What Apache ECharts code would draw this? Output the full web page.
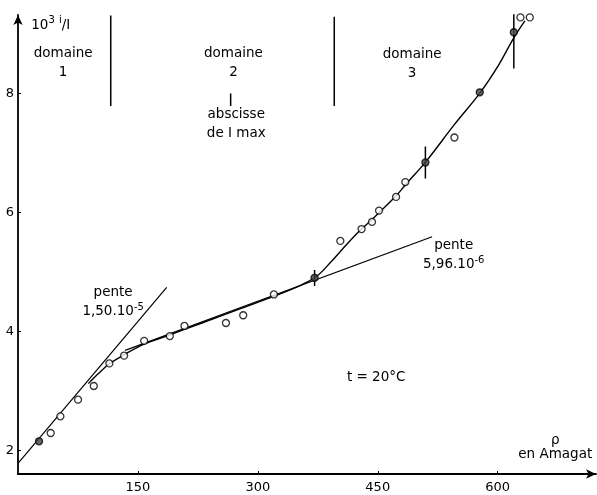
<!DOCTYPE html>
<html>
<head>
<meta charset="utf-8">
<script src="https://cdn.jsdelivr.net/npm/echarts@6/dist/echarts.min.js"></script>
<style>
html,body{margin:0;padding:0;background:#fff;}
#c{width:597px;height:495px;}
</style>
</head>
<body>
<div id="c"></div>
<script>
// ---- data ----
const xTicks = [150, 300, 450, 600];
const yTicks = [2, 4, 6, 8];

// measured points (density in Amagat, 10^3 i/I)
const openPoints = [
  [40.9, 2.29], [53, 2.57], [75.1, 2.85], [94.8, 3.08], [114.3, 3.46],
  [132.7, 3.59], [157.8, 3.84], [189.9, 3.92], [208.2, 4.09], [260.1, 4.14],
  [281.7, 4.27], [320.1, 4.62], [403.2, 5.52], [429.8, 5.72], [442.8, 5.84],
  [451.6, 6.03], [472.9, 6.26], [484.5, 6.51], [545.9, 7.26], [628.5, 9.28],
  [640.2, 9.28]
];
const solidPoints = [[26.3, 2.15], [371, 4.90], [509.6, 6.84], [577.6, 8.02], [620.2, 9.03]];

// tangent lines
const slopeLine1 = [[0, 1.78], [186, 4.74]];
const slopeLine2 = [[134, 3.68], [518, 5.59]];

// fitted curve
const fitCurve = [
  [88, 3.12], [100, 3.28], [114, 3.45], [132, 3.60], [157, 3.78], [190, 3.94],
  [230, 4.14], [280, 4.39], [328, 4.63], [356, 4.79], [374, 4.93], [391, 5.16],
  [411, 5.46], [428, 5.70], [443, 5.88], [452, 6.00], [473, 6.28], [485, 6.47],
  [510, 6.85], [546, 7.48], [578, 8.01], [600, 8.45], [620, 8.93], [634, 9.22]
];

// error bars: [x, low, high]
const errorBars = [[371, 4.76, 5.03], [509.6, 6.57, 7.11], [620.2, 8.42, 9.47]];

// vertical separators: [x, low, high]
const separators = [[116, 7.79, 9.31], [395.6, 7.79, 9.29], [266, 7.79, 8.0]];

// annotations (centre in data coords)
const annotations = [
  { t: '10{sup|3} {sup|i}/{n|I}', x: 41, y: 9.15 },
  { t: 'domaine\n1', x: 56.5, y: 8.52 },
  { t: 'domaine\n2', x: 269.5, y: 8.52 },
  { t: 'domaine\n3', x: 493, y: 8.50 },
  { t: 'abscisse\nde I max', x: 273, y: 7.49 },
  { t: 'pente\n1,50.10{sup|-5}', x: 119, y: 4.49 },
  { t: 'pente\n5,96.10{sup|-6}', x: 545, y: 5.28 },
  { t: 't = 20°C', x: 448, y: 3.23 },
  { t: 'ρ', x: 672, y: 2.17 },
  { t: 'en Amagat', x: 672, y: 1.92 }
];

const FONT = 'DejaVu Sans';
const INK = '#000';

const segSeries = [];
errorBars.concat(separators).forEach(function (s) {
  segSeries.push({
    type: 'line', silent: true, symbol: 'none',
    lineStyle: { color: INK, width: 1.5 },
    data: [[s[0], s[1]], [s[0], s[2]]], z: 3
  });
});

const chart = echarts.init(document.getElementById('c'), null, { renderer: 'canvas' });
chart.setOption({
  animation: false,
  backgroundColor: '#fff',
  grid: { left: 18, right: 1, top: 15, bottom: 21, containLabel: false },
  xAxis: {
    type: 'value', min: 0, max: 723,
    splitLine: { show: false },
    axisLine: { lineStyle: { color: INK, width: 1.8 }, symbol: ['none', 'arrow'], symbolSize: [7, 10] },
    axisTick: { inside: true, length: 3, lineStyle: { color: INK }, customValues: xTicks },
    axisLabel: { customValues: xTicks, color: INK, fontFamily: FONT, fontSize: 13, margin: 7 }
  },
  yAxis: {
    type: 'value', min: 1.6, max: 9.32,
    splitLine: { show: false },
    axisLine: { lineStyle: { color: INK, width: 1.8 }, symbol: ['none', 'arrow'], symbolSize: [7, 10] },
    axisTick: { inside: true, length: 3, lineStyle: { color: INK }, customValues: yTicks },
    axisLabel: { customValues: yTicks, color: INK, fontFamily: FONT, fontSize: 13, margin: 4 }
  },
  series: [
    { type: 'line', silent: true, symbol: 'none', data: slopeLine1, lineStyle: { color: INK, width: 1.2 } },
    { type: 'line', silent: true, symbol: 'none', data: slopeLine2, lineStyle: { color: INK, width: 1.2 } },
    { type: 'line', silent: true, symbol: 'none', smooth: 0.35, data: fitCurve, lineStyle: { color: INK, width: 1.4 } },
    {
      type: 'scatter', silent: true, symbol: 'circle', symbolSize: 7, data: openPoints,
      itemStyle: { color: '#fff', borderColor: INK, borderWidth: 1.3 }, z: 5
    },
    {
      type: 'scatter', silent: true, symbol: 'circle', symbolSize: 7, data: solidPoints,
      itemStyle: { color: '#444', borderColor: INK, borderWidth: 1.3 }, z: 5
    }
  ].concat(segSeries).concat([{
    type: 'scatter', silent: true, symbolSize: 0, z: 10,
    data: annotations.map(function (a) { return { value: [a.x, a.y], name: a.t }; }),
    itemStyle: { color: 'transparent', opacity: 1 },
    label: {
      show: true, position: 'inside', color: INK, opacity: 1, textBorderWidth: 0,
      fontFamily: FONT, fontSize: 13.5,
      lineHeight: 19, align: 'center', verticalAlign: 'middle',
      formatter: function (p) { return p.name; },
      rich: {
        sup: { fontFamily: FONT, fontSize: 10, verticalAlign: 'top', color: INK, lineHeight: 19, padding: [0, 0, 6, 0] },
        n: { fontFamily: FONT, fontSize: 13.5, color: INK, lineHeight: 19 }
      }
    }
  }])
});
</script>
</body>
</html>
